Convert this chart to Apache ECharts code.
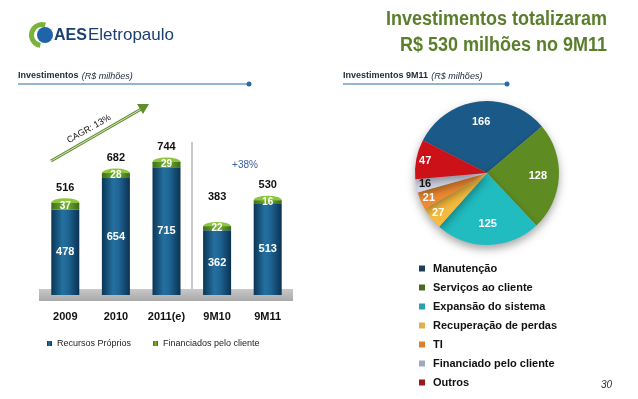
<!DOCTYPE html>
<html>
<head>
    <meta charset="utf-8">
    <title>Investimentos 9M11</title>
    <script src="https://cdn.jsdelivr.net/npm/echarts@6/dist/echarts.min.js"></script>
    <style>
        html, body { margin: 0; padding: 0; background: #fff; }
        #main { width: 638px; height: 399px; }
    </style>
</head>
<body>
<div id="main"></div>
<script type="text/javascript">
// dados do gráfico de barras
var categories = ['2009', '2010', '2011(e)', '9M10', '9M11'];
var recursosProprios = [478, 654, 715, 362, 513];
var financiadosCliente = [37, 28, 29, 22, 16];
var totals = [516, 682, 744, 383, 530];

// dados da pizza
var pieNames = ['Manutenção', 'Serviços ao cliente', 'Expansão do sistema',
    'Recuperação de perdas', 'TI', 'Financiado pelo cliente', 'Outros'];
var pieValues = [166, 128, 125, 27, 21, 16, 47];

var pieColors = ['#1b5a88', '#5e8c22', '#20bcbf', '#f6bb3e', '#f08a30', '#d3d8ea', '#cc1119'];
var legendColors = ['#1d3f5c', '#4a6a24', '#2aa0a8', '#e0b050', '#dd7d30', '#a0a8c0', '#9a1818'];

var font = 'Liberation Sans, Arial, sans-serif';
var myChart = echarts.init(document.getElementById('main'));

var blueGrad = new echarts.graphic.LinearGradient(0, 0, 1, 0, [
    {offset: 0, color: '#0b3556'},
    {offset: 0.4, color: '#24709f'},
    {offset: 0.6, color: '#1f6594'},
    {offset: 1, color: '#0a3252'}
]);
var greenGrad = new echarts.graphic.LinearGradient(0, 0, 1, 0, [
    {offset: 0, color: '#3f6e17'},
    {offset: 0.5, color: '#7ab33a'},
    {offset: 1, color: '#3c6a15'}
]);

// fatias (sem rótulo) e camadas transparentes só para os rótulos
var pieData = pieNames.map(function (n, i) {
    return {name: n, value: pieValues[i], itemStyle: {color: pieColors[i]}};
});
// big = true -> rótulos das fatias grandes, false -> fatias pequenas (perto da borda)
function labelData(big) {
    return pieNames.map(function (n, i) {
        var item = {name: n, value: pieValues[i], label: {show: (i < 3) === big}};
        if (i === 5) item.label.color = '#111';
        return item;
    });
}

// rótulo do total de 9M10 fica mais alto no original
var totalData = totals.map(function (v, i) {
    return i === 3 ? {value: v, label: {distance: 20}} : v;
});

var titleFont = 'bold 20px "Liberation Sans Narrow", ' + font;
var pieCenter = [487, 173];

function labelPie(radius, big) {
    return {
        name: big ? 'rotulos1' : 'rotulos2',
        type: 'pie',
        center: pieCenter,
        radius: radius,
        startAngle: 153,
        silent: true,
        z: 4,
        itemStyle: {color: 'rgba(0,0,0,0)'},
        label: {position: 'inside', formatter: '{c}', color: '#fff', fontWeight: 'bold', fontSize: 11},
        labelLine: {show: false},
        labelLayout: {hideOverlap: false},
        emphasis: {disabled: true},
        data: labelData(big)
    };
}

var option = {
    textStyle: {fontFamily: font},
    animation: false,
    grid: {left: 40, right: 345, top: 152, bottom: 104},
    xAxis: {
        type: 'category',
        data: categories,
        axisLine: {show: false},
        axisTick: {show: false},
        axisLabel: {margin: 16, fontSize: 11, fontWeight: 'bold', color: '#111', fontFamily: font}
    },
    yAxis: {type: 'value', min: 0, max: 800, show: false},
    legend: [{
        data: ['Recursos Próprios', 'Financiados pelo cliente'],
        left: 42, top: 334,
        icon: 'rect', itemWidth: 5, itemHeight: 5, itemGap: 22,
        textStyle: {fontSize: 9, color: '#222', fontFamily: font}
    }, {
        data: pieNames.map(function (n, i) {
            return {name: n, itemStyle: {color: legendColors[i]}};
        }),
        orient: 'vertical',
        left: 414, top: 258,
        icon: 'rect', itemWidth: 6, itemHeight: 6, itemGap: 8,
        textStyle: {fontSize: 11, fontWeight: 'bold', color: '#111', fontFamily: font, padding: [0, 0, 0, 3]}
    }],
    series: [{
        name: 'Recursos Próprios',
        type: 'bar',
        stack: 'inv',
        barWidth: 28,
        z: 3,
        itemStyle: {color: blueGrad},
        label: {show: true, position: 'inside', color: '#fff', fontWeight: 'bold', fontSize: 11},
        data: recursosProprios
    }, {
        name: 'Financiados pelo cliente',
        type: 'bar',
        stack: 'inv',
        barWidth: 28,
        z: 3,
        itemStyle: {color: greenGrad},
        label: {show: true, position: 'inside', color: '#fff', fontWeight: 'bold', fontSize: 10},
        data: financiadosCliente
    }, {
        name: 'total',
        type: 'pictorialBar',
        symbol: 'circle',
        symbolSize: [28, 9],
        symbolPosition: 'end',
        symbolOffset: [0, '-50%'],
        barGap: '-100%',
        barWidth: 28,
        z: 2,
        itemStyle: {color: '#8cc63f'},
        label: {show: true, position: 'top', distance: 5, color: '#111', fontWeight: 'bold', fontSize: 11},
        data: totalData
    }, {
        name: 'Investimentos 9M11',
        type: 'pie',
        center: pieCenter,
        radius: 72,
        startAngle: 153,
        label: {show: false},
        labelLine: {show: false},
        itemStyle: {shadowBlur: 8, shadowColor: 'rgba(0,0,0,0.35)', shadowOffsetY: 4},
        emphasis: {disabled: true},
        data: pieData
    },
    labelPie([30, 66], true),
    labelPie([46, 74], false)
    ],
    graphic: [
        // logo
        {type: 'sector', shape: {cx: 42, cy: 35, r: 13, r0: 8, startAngle: Math.PI * 0.55, endAngle: Math.PI * 1.6}, style: {fill: '#7ab33a'}},
        {type: 'circle', shape: {cx: 45, cy: 35, r: 8}, style: {fill: '#1f64a8'}},
        {type: 'text', left: 54, top: 28, style: {text: 'AES', font: 'bold 16px ' + font, fill: '#1b3f73'}},
        {type: 'text', left: 88, top: 27, style: {text: 'Eletropaulo', font: '17px ' + font, fill: '#1b3f73'}},
        // titulo
        {type: 'text', x: 607, y: 19, scaleX: 0.9, style: {text: 'Investimentos totalizaram', font: titleFont, fill: '#5a7f2c', align: 'right', verticalAlign: 'middle'}},
        {type: 'text', x: 607, y: 45, scaleX: 0.9, style: {text: 'R$ 530 milhões no 9M11', font: titleFont, fill: '#5a7f2c', align: 'right', verticalAlign: 'middle'}},
        // cabecalhos
        {type: 'text', left: 18, top: 70, style: {
            text: '{b|Investimentos} {i|(R$ milhões)}',
            rich: {b: {fontWeight: 'bold', fontSize: 9, fill: '#1d2a3a', fontFamily: font},
                   i: {fontStyle: 'italic', fontSize: 9, fill: '#1d2a3a', fontFamily: font}}
        }},
        {type: 'line', shape: {x1: 18, y1: 84, x2: 249, y2: 84}, style: {stroke: '#2a6aa8', lineWidth: 1}},
        {type: 'circle', shape: {cx: 249, cy: 84, r: 2.5}, style: {fill: '#2a6aa8'}},
        {type: 'text', left: 343, top: 70, style: {
            text: '{b|Investimentos 9M11} {i|(R$ milhões)}',
            rich: {b: {fontWeight: 'bold', fontSize: 9, fill: '#1d2a3a', fontFamily: font},
                   i: {fontStyle: 'italic', fontSize: 9, fill: '#1d2a3a', fontFamily: font}}
        }},
        {type: 'line', shape: {x1: 343, y1: 84, x2: 507, y2: 84}, style: {stroke: '#2a6aa8', lineWidth: 1}},
        {type: 'circle', shape: {cx: 507, cy: 84, r: 2.5}, style: {fill: '#2a6aa8'}},
        // base cinza
        {type: 'rect', shape: {x: 39, y: 289, width: 254, height: 12}, style: {
            fill: new echarts.graphic.LinearGradient(0, 0, 0, 1, [
                {offset: 0, color: '#c8c8c8'}, {offset: 1, color: '#a9a9a9'}])
        }, z: -1},
        // separador
        {type: 'line', shape: {x1: 192, y1: 142, x2: 192, y2: 290}, style: {stroke: '#c9c9c9', lineWidth: 2}, z: -1},
        // CAGR
        {type: 'line', shape: {x1: 51, y1: 161, x2: 143, y2: 108}, style: {stroke: '#5f8f2c', lineWidth: 3}},
        {type: 'line', shape: {x1: 51, y1: 161, x2: 143, y2: 108}, style: {stroke: '#d8e8c0', lineWidth: 1}},
        {type: 'polygon', shape: {points: [[149, 104], [137, 104], [143, 114]]}, style: {fill: '#5f8f2c'}},
        {type: 'text', x: 89, y: 129, rotation: 0.52, style: {
            text: 'CAGR: 13%', font: '9px ' + font, fill: '#111', align: 'center', verticalAlign: 'middle'}},
        {type: 'text', x: 245, y: 165, style: {
            text: '+38%', font: '10px ' + font, fill: '#3a5f9a', align: 'center', verticalAlign: 'middle'}},
        // pagina
        {type: 'text', right: 26, top: 380, style: {text: '30', font: 'italic 10px ' + font, fill: '#333'}}
    ]
};

myChart.setOption(option);
</script>
</body>
</html>
